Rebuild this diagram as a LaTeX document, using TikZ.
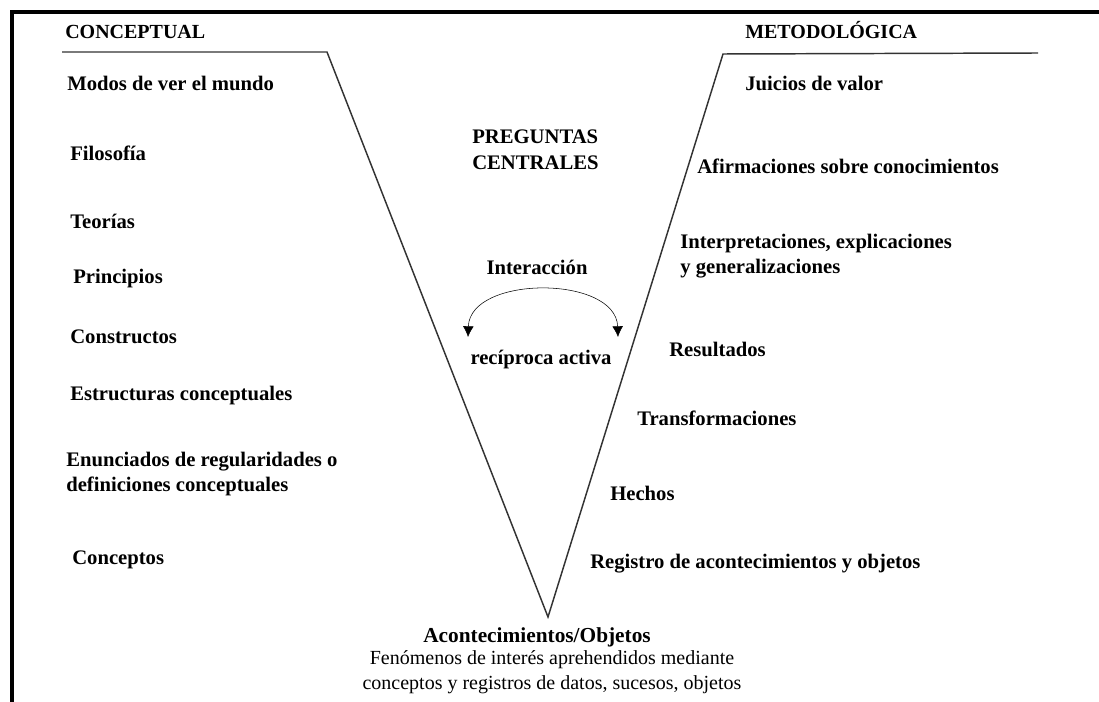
\documentclass[tikz,border=0pt]{standalone}
\usepackage{fontspec}
\setmainfont{Liberation Serif}
\usetikzlibrary{arrows.meta}
\begin{document}
\begin{tikzpicture}[x=0.75pt,y=-0.75pt]
        \tikzstyle{item}=[anchor=west,inner sep=0pt,font=\fontsize{15.5}{18.75}\selectfont\bfseries,align=left]
        \tikzstyle{head}=[inner sep=0pt,anchor=base west,font=\fontsize{15}{18}\selectfont\bfseries]
        \tikzstyle{note}=[inner sep=0pt,font=\fontsize{15}{18.75}\selectfont,align=center]
        \tikzstyle{vline}=[draw=black!80,line width=1.1pt]
        \useasboundingbox (0,0) rectangle (1099,702);
        % frame
        \draw[line width=3pt] (1099,12) -- (12,12) -- (12,702);
        % the V
        \coordinate (lt0) at (62,52);
        \coordinate (lt) at (327,52);
        \coordinate (bot) at (548,617);
        \coordinate (rt) at (723,54);
        \coordinate (rt0) at (1038,53);
        \path[vline] (lt0) -- (lt) -- (bot) -- (rt) -- (rt0);
        % conceptual side
        \node [head] (con) at (65,39) {CONCEPTUAL};
        \node [item] (c1) at (67,83) {Modos de ver el mundo};
        \node [item] (c2) at (70,153) {Filosofía};
        \node [item] (c3) at (70,221) {Teorías};
        \node [item] (c4) at (73,279) {Principios};
        \node [item] (c5) at (70,337) {Constructos};
        \node [item] (c6) at (70,396) {Estructuras conceptuales};
        \node [item] (c7) at (66,474) {Enunciados de regularidades o\\definiciones conceptuales};
        \node [item] (c8) at (72,560) {Conceptos};
        % methodological side
        \node [head] (met) at (745,39) {METODOLÓGICA};
        \node [item] (m1) at (745,83) {Juicios de valor};
        \node [item] (m2) at (697,166) {Afirmaciones sobre conocimientos};
        \node [item] (m3) at (680,256) {Interpretaciones, explicaciones\\y generalizaciones};
        \node [item] (m4) at (669,349) {Resultados};
        \node [item] (m5) at (637,418) {Transformaciones};
        \node [item] (m6) at (610,493) {Hechos};
        \node [item] (m7) at (590,564) {Registro de acontecimientos y objetos};
        % centre
        \node [item,font=\fontsize{15.5}{19.5}\selectfont\bfseries] (preg) at (472,150) {PREGUNTAS\\CENTRALES};
        \node [item,anchor=center] (inter) at (537,267) {Interacción};
        \node [item,anchor=center] (reci) at (541,360) {recíproca activa};
        \coordinate (ia) at (468,337);
        \coordinate (ib) at (618,337);
        \draw[{Latex[length=8pt,width=8pt]}-{Latex[length=8pt,width=8pt]},thin] (ia) .. controls (470,275) and (616,275) .. (ib);
        % bottom
        \node [item,anchor=center,font=\fontsize{16}{19}\selectfont\bfseries] (obj) at (537,637) {Acontecimientos/Objetos};
        \node [note,anchor=north] (fen) at (552,650) {Fenómenos de interés aprehendidos mediante\\conceptos y registros de datos, sucesos, objetos};
\end{tikzpicture}
\end{document}
